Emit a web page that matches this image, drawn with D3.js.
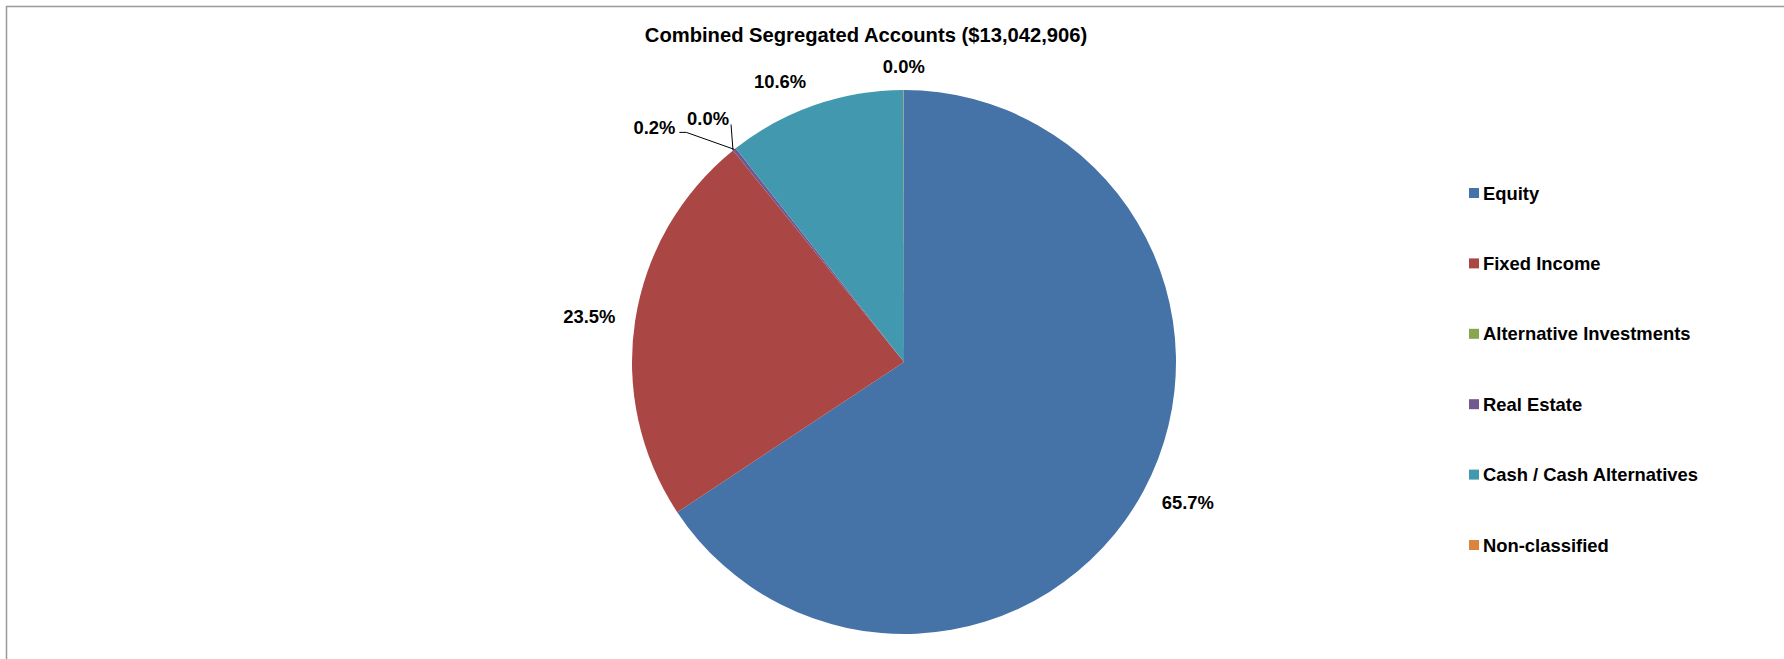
<!DOCTYPE html>
<html>
<head>
<meta charset="utf-8">
<script src="https://cdn.jsdelivr.net/npm/d3@7"></script>
<style>
  body { margin: 0; background: #fff; }
  text { font-family: "Liberation Sans", Arial, sans-serif; font-weight: bold; fill: #000; }
</style>
</head>
<body>
<div id="chart"></div>
<script>
var width = 1784,
    height = 659;

// Data
var categories = ["Equity", "Fixed Income", "Alternative Investments", "Real Estate", "Cash / Cash Alternatives", "Non-classified"];
var shares = [65.7, 23.5, 0.0, 0.2, 10.6, 0.02];
var shareLabels = ["65.7%", "23.5%", "0.0%", "0.2%", "10.6%", "0.0%"];
var colors = ["#4572A7", "#AA4643", "#89A54E", "#71588F", "#4198AF", "#DB843D"];
var title = "Combined Segregated Accounts ($13,042,906)";

var svg = d3.select("#chart")
    .append("svg")
    .attr("width", width)
    .attr("height", height);

// chart frame (only top and left edges fall inside the picture)
svg.append("path")
    .attr("d", "M6.5," + height + "V6.5H" + width)
    .attr("fill", "none")
    .attr("stroke", "#999")
    .attr("stroke-width", 1.5);

svg.append("text")
    .attr("x", 866)
    .attr("y", 42)
    .attr("text-anchor", "middle")
    .style("font-size", "20.2px")
    .text(title);

var cx = 904, cy = 362, radius = 272;

var pie = d3.pie()
    .sort(null)
    .value(function(d) { return d; });

var arcs = pie(shares);

var arc = d3.arc()
    .innerRadius(0)
    .outerRadius(radius);

var g = svg.append("g")
    .attr("transform", "translate(" + cx + "," + cy + ")");

g.selectAll("path.slice")
    .data(arcs)
    .enter()
    .append("path")
    .attr("class", "slice")
    .attr("d", arc)
    .attr("fill", function(d, i) { return colors[i]; });

// labels at outside end; the two tiny slices get moved labels with leader lines
var gap = 15, lw = 62, lh = 18;
var nudge = {4: [-19, 0]};
var leader = {2: [-25, -32], 3: [-80, -22]};

arcs.forEach(function(d, i) {
    var a = (d.startAngle + d.endAngle) / 2;
    var s = Math.sin(a), c = Math.cos(a);
    var m = Math.max(Math.abs(s), Math.abs(c));
    var px, py;
    if (leader[i]) {
        var ex = radius * s, ey = -radius * c;
        px = ex + leader[i][0];
        py = ey + leader[i][1];
        var pts = (i === 2)
            ? [[ex, ey], [ex - 2, ey - 26]]
            : [[ex, ey], [ex - 48, ey - 17], [ex - 55, ey - 17]];
        g.append("path")
            .attr("d", d3.line()(pts))
            .attr("fill", "none")
            .attr("stroke", "#000")
            .attr("stroke-width", 1);
    } else {
        px = (radius + gap) * s + lw / 2 * s / m;
        py = -(radius + gap) * c - lh / 2 * c / m;
        if (nudge[i]) { px += nudge[i][0]; py += nudge[i][1]; }
    }
    g.append("text")
        .attr("x", px)
        .attr("y", py + 6.5)
        .attr("text-anchor", "middle")
        .style("font-size", "18.4px")
        .text(shareLabels[i]);
});

// legend
var legend = svg.append("g")
    .attr("transform", "translate(1469,193)");

var row = d3.scalePoint()
    .domain(categories)
    .range([0, 352]);

var item = legend.selectAll("g.item")
    .data(categories)
    .enter()
    .append("g")
    .attr("class", "item")
    .attr("transform", function(d) { return "translate(0," + row(d) + ")"; });

item.append("rect")
    .attr("x", 0)
    .attr("y", -5)
    .attr("width", 10)
    .attr("height", 10)
    .attr("fill", function(d, i) { return colors[i]; });

item.append("text")
    .attr("x", 14)
    .attr("y", 6.6)
    .style("font-size", "18.4px")
    .text(function(d) { return d; });
</script>
</body>
</html>
